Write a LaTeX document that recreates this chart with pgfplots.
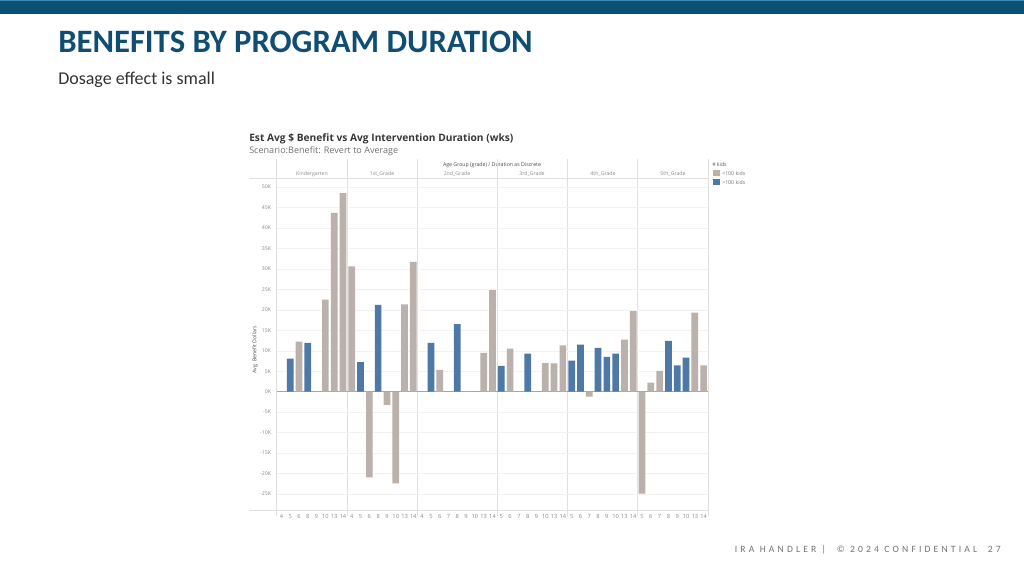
\documentclass[border=0pt]{standalone}
\usepackage{fontspec}
\setmainfont{Carlito}
\newfontfamily\tabfont{Open Sans}
\usepackage{pgfplots}
\pgfplotsset{compat=1.18}
\definecolor{bargray}{HTML}{BAB0AC}
\definecolor{barblue}{HTML}{4E79A7}
\definecolor{titleblue}{HTML}{0F4E72}
\definecolor{topbar}{HTML}{0B5075}
\definecolor{topline}{HTML}{3F86B0}
\definecolor{sep}{HTML}{E0E0E0}
\definecolor{tick}{HTML}{8A8A8A}
\begin{document}
\begin{tikzpicture}[x=0.75pt,y=0.75pt]
\path[use as bounding box, fill=white] (0,0) rectangle (1024,576);
\begin{scope}[shift={(0,576)}, yscale=-1]
% top bar
\fill[topbar] (0,0) rectangle (1024,14.5);
\fill[topline] (0,0) rectangle (1024,1.5);
% titles
\node[anchor=base west, inner sep=0pt, text=titleblue, font=\fontsize{24.5}{28}\selectfont\bfseries] at (58,52.5) {BENEFITS BY PROGRAM DURATION};
\node[anchor=base west, inner sep=0pt, text=black!80, font=\fontsize{13.5}{16}\selectfont] at (58,85) {Dosage effect is small};
% chart titles
\node[anchor=base west, inner sep=0pt, text=black!78, font=\tabfont\fontsize{7.65}{10}\selectfont\bfseries] at (249,141) {Est Avg \$ Benefit vs Avg Intervention Duration (wks)};
\node[anchor=base west, inner sep=0pt, text=black!55, font=\tabfont\fontsize{6.8}{8}\selectfont] at (249,154) {Scenario:Benefit: Revert to Average};
% header
\node[anchor=base, inner sep=0pt, text=black!70, font=\tabfont\fontsize{3.9}{5}\selectfont] at (492,166.5) {Age Group (grade) / Duration as Discrete};
\foreach \cx/\lab in {312/Kindergarten,382/1st\_Grade,457/2nd\_Grade,532/3rd\_Grade,603/4th\_Grade,673/5th\_Grade}{
  \node[anchor=base, inner sep=0pt, text=black!45, font=\tabfont\fontsize{3.9}{5}\selectfont] at (\cx,175.5) {\lab};
}
\draw[sep, line width=0.5pt] (249,178.5) -- (708.5,178.5);
\foreach \sx in {276.5,347.4,417.7,496.9,567.3,637.6,708.5}{
  \draw[sep, line width=0.5pt] (\sx,159) -- (\sx,516);
}
\draw[sep, line width=0.5pt] (249,510) -- (708.5,510);
% legend
\node[anchor=base west, inner sep=0pt, text=black!65, font=\tabfont\fontsize{3.9}{5}\selectfont] at (712,166) {\# kids};
\fill[bargray] (713,170) rectangle (719.5,176);
\fill[barblue] (713,179) rectangle (719.5,185);
\node[anchor=base west, inner sep=0pt, text=black!55, font=\tabfont\fontsize{3.9}{5}\selectfont] at (722,175) {<100 kids};
\node[anchor=base west, inner sep=0pt, text=black!55, font=\tabfont\fontsize{3.9}{5}\selectfont] at (722,184) {>100 kids};
% y label
\node[rotate=90, inner sep=0pt, text=black!70, font=\tabfont\fontsize{3.9}{5}\selectfont] at (255,350) {Avg. Benefit Dollars};
% footer
\node[anchor=base east, inner sep=0pt, text=black!55, font=\fontsize{7.2}{9}\selectfont\addfontfeature{LetterSpace=33}] at (1001,552.5) {IRA HANDLER |~~© 2024 CONFIDENTIAL~~27};
\end{scope}
% axis
\begin{axis}[
  at={(207.75pt,49.5pt)}, anchor=south west,
  scale only axis, width=323.25pt, height=247.5pt,
  xmin=-0.5, xmax=48.5, ymin=-28.9, ymax=51.7,
  axis line style={draw=none}, major tick length=0pt,
  ytick={-25,-20,...,50},
  yticklabel={\pgfmathprintnumber{\tick}K},
  yticklabel style={font=\tabfont\fontsize{3.9}{5}\selectfont, text=tick, xshift=-1pt},
  /pgf/number format/assume math mode=true,
  xtick={0,...,48},
  xticklabels={4,5,6,8,9,10,13,14,4,5,6,8,9,10,13,14,4,5,6,7,8,9,10,13,14,5,6,7,8,9,10,13,14,5,6,7,8,9,10,13,14,5,6,7,8,9,10,13,14},
  xticklabel style={font=\tabfont\fontsize{4.3}{5}\selectfont, text=tick, yshift=0pt},
  ymajorgrids, grid style={black!5, line width=0.3pt},
  clip=false,
]
\draw[black!35, line width=0.4pt] (axis cs:-0.5,0) -- (axis cs:48.5,0);
\addplot[ybar, bar width=0.76, bar shift=0pt, fill=bargray, draw=none] coordinates {
 (2,12.2) (5,22.5) (6,43.7) (7,48.5)
 (8,30.6) (10,-20.9) (12,-3.2) (13,-22.4) (14,21.3) (15,31.7)
 (18,5.3) (23,9.5) (24,24.8)
 (26,10.5) (30,7.0) (31,6.9) (32,11.3)
 (35,-1.2) (39,12.7) (40,19.7)
 (41,-24.9) (42,2.2) (43,5.1) (47,19.3) (48,6.4)
};
\addplot[ybar, bar width=0.76, bar shift=0pt, fill=barblue, draw=none] coordinates {
 (1,8.1) (3,11.9)
 (9,7.2) (11,21.2)
 (17,11.9) (20,16.5)
 (25,6.3) (28,9.3)
 (33,7.6) (34,11.5) (36,10.7) (37,8.5) (38,9.3)
 (44,12.4) (45,6.4) (46,8.3)
};
\end{axis}
\end{tikzpicture}
\end{document}
